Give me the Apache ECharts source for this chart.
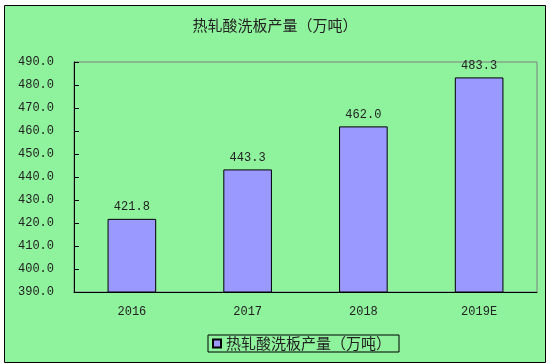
<!DOCTYPE html>
<html><head><meta charset="utf-8">
<script src="https://cdn.jsdelivr.net/npm/echarts@6/dist/echarts.min.js"></script>
<style>html,body{margin:0;padding:0;background:#fff}#c{width:550px;height:364px}</style>
</head><body><div id="c"></div>
<script>
const categories = ['2016', '2017', '2018', '2019E'];
const production = [421.8, 443.3, 462.0, 483.3];
const seriesName = '热轧酸洗板产量（万吨）';
const yMin = 390, yMax = 490, yStep = 10;
const font = "'Liberation Mono','Noto Sans CJK SC',monospace";
const cjk = "'Noto Sans CJK SC',sans-serif";
const chart = echarts.init(document.getElementById('c'));
chart.setOption({
  backgroundColor: '#fff',
  animation: false,
  title: { text: seriesName, left: 'center', top: 13,
    textStyle: { fontFamily: cjk, fontSize: 15, fontWeight: 'normal', color: '#222' } },
  graphic: [{ type: 'rect', z: -10, shape: { x: 4.5, y: 5.5, width: 541, height: 357 },
    style: { fill: '#8ff29c', stroke: '#000', lineWidth: 1 }, silent: true }],
  grid: { left: 74, right: 13, top: 62, bottom: 72, show: true, borderColor: '#808080', borderWidth: 1, backgroundColor: 'transparent' },
  legend: { top: 335, left: 208, data: [seriesName], icon: 'rect', itemWidth: 8, itemHeight: 8, itemGap: 5,
    padding: [1, 8, 1, 4], borderColor: '#000', borderWidth: 1,
    textStyle: { fontFamily: cjk, fontSize: 15, color: '#222' } },
  xAxis: { type: 'category', data: categories,
    axisLine: { lineStyle: { color: '#000' } },
    axisTick: { inside: true, length: 5, lineStyle: { color: '#000' } },
    axisLabel: { margin: 14, fontFamily: font, fontSize: 12, color: '#222' } },
  yAxis: { type: 'value', min: yMin, max: yMax, interval: yStep,
    axisLine: { show: true, lineStyle: { color: '#000' } },
    axisTick: { show: true, inside: true, length: 5, lineStyle: { color: '#000' } },
    splitLine: { show: false },
    axisLabel: { margin: 20, fontFamily: font, fontSize: 12, color: '#222', formatter: v => v.toFixed(1) } },
  series: [{ name: seriesName, type: 'bar', data: production, barWidth: '42%',
    itemStyle: { color: '#9999ff', borderColor: '#000', borderWidth: 1 },
    label: { show: true, position: 'top', distance: 6, fontFamily: font, fontSize: 12, color: '#222',
      formatter: p => p.value.toFixed(1) } }]
});
</script></body></html>
